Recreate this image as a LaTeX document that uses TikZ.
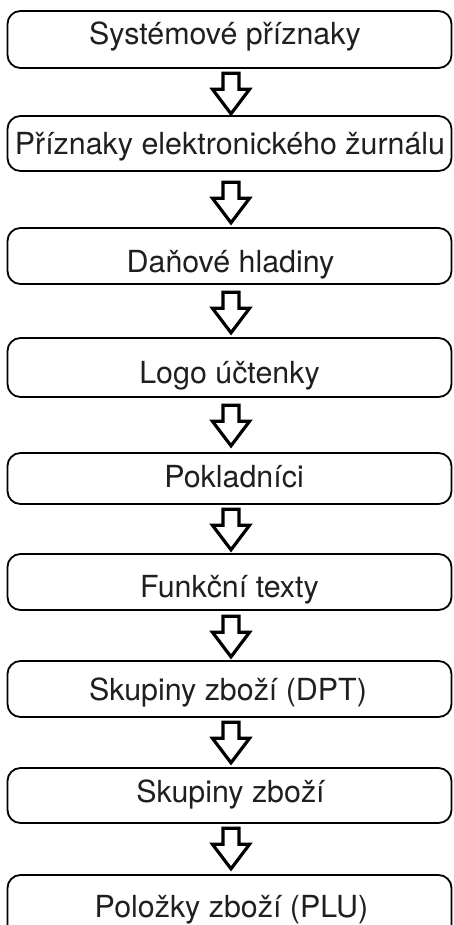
\documentclass[tikz,border=0pt]{standalone}
\usepackage{fontspec}
\setmainfont{TeX Gyre Heros}
\begin{document}
\begin{tikzpicture}[x=1pt,y=-1pt,
  box/.style={draw=black, line width=1.8pt, rounded corners=13pt, minimum width=444pt, inner sep=0pt},
  lbl/.style={anchor=base, inner sep=0pt, text=black!88, font=\fontsize{30.4}{36}\selectfont},
  downarrow/.pic={\draw[line width=3.2pt, line join=miter, fill=white] (-8,0) -- (-8,16) -- (-18.5,16) -- (0,40.5) -- (18.5,16) -- (8,16) -- (8,0) -- cycle;}]
\useasboundingbox[fill=white] (0,0) rectangle (453,925);
% boxes
\node[box, minimum height=57pt] (b1) at (229.5,39.5) {};
\node[box, minimum height=55pt] (b2) at (229.5,143.5) {};
\node[box, minimum height=56pt] (b3) at (229.5,256) {};
\node[box, minimum height=59pt] (b4) at (229.5,367.5) {};
\node[box, minimum height=51pt] (b5) at (229.5,478.5) {};
\node[box, minimum height=56pt] (b6) at (229.5,582) {};
\node[box, minimum height=56pt] (b7) at (229.5,689) {};
\node[box, minimum height=55pt] (b8) at (229.5,795.5) {};
\node[box, minimum height=66pt] (b9) at (229.5,908) {};
% labels
\node[lbl] (t1) at (225,45) {Systémové příznaky};
\node[lbl] (t2) at (230,155) {Příznaky elektronického žurnálu};
\node[lbl] (t3) at (230.5,272) {Daňové hladiny};
\node[lbl] (t4) at (229.5,383) {Logo účtenky};
\node[lbl] (t5) at (234,487) {Pokladníci};
\node[lbl] (t6) at (229.5,597) {Funkční texty};
\node[lbl] (t7) at (228,700) {Skupiny zboží (DPT)};
\node[lbl] (t8) at (230.5,802) {Skupiny zboží};
\node[lbl] (t9) at (231.5,917) {Položky zboží (PLU)};
% block arrows
\path (b1.south) ++(1.5,4.4) pic (a1) {downarrow};
\path (b2.south) ++(1.5,10.4) pic (a2) {downarrow};
\path (b3.south) ++(1.5,7.4) pic (a3) {downarrow};
\path (b4.south) ++(1.5,7.4) pic (a4) {downarrow};
\path (b5.south) ++(1.5,4.4) pic (a5) {downarrow};
\path (b6.south) ++(1.5,5.4) pic (a6) {downarrow};
\path (b7.south) ++(1.5,4.4) pic (a7) {downarrow};
\path (b8.south) ++(1.5,4.4) pic (a8) {downarrow};
\end{tikzpicture}
\end{document}
